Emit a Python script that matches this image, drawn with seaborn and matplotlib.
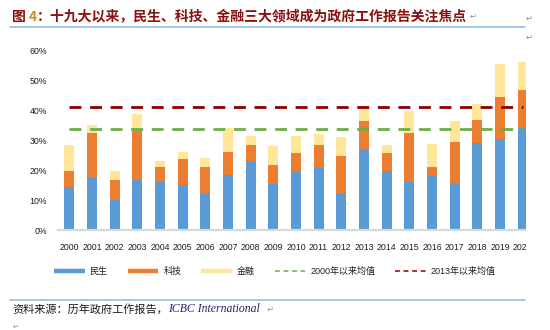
import matplotlib
matplotlib.use("Agg")
import matplotlib.pyplot as plt
import seaborn as sns
import numpy as np
import pandas as pd
from matplotlib.lines import Line2D
from matplotlib.patches import Rectangle

# Share of government work report text by theme (%)
years = [str(y) for y in range(2000, 2021)]
livelihood = [14.4, 17.8, 10.1, 16.9, 16.3, 15.2, 12.1, 18.5, 22.9, 15.6, 19.9,
              21.3, 12.5, 27.3, 19.9, 16.3, 18.5, 15.8, 29.0, 30.5, 34.3]
technology = [5.5, 14.6, 6.7, 16.4, 4.8, 8.5, 9.2, 7.8, 5.6, 6.3, 5.8,
              7.2, 12.4, 9.3, 5.8, 16.3, 2.6, 13.7, 7.9, 14.0, 12.6]
finance = [8.6, 2.8, 3.1, 5.7, 2.1, 2.3, 3.0, 7.8, 2.9, 6.4, 5.7,
           3.6, 6.2, 4.3, 2.8, 7.1, 7.8, 7.1, 5.3, 11.1, 9.3]
y_ticks = [0, 10, 20, 30, 40, 50, 60]
series_names = ["民生", "科技", "金融"]
avg_names = ["2000年以来均值", "2013年以来均值"]

BLUE, ORANGE, YELLOW = "#5B9BD5", "#ED7D31", "#FFE699"
GREEN, DARKRED = "#70AD47", "#8B0000"

sns.set_theme(style="white")
plt.rcParams["font.family"] = ["Liberation Sans", "Noto Sans CJK SC", "DejaVu Sans"]

df = pd.DataFrame({"year": years, "民生": livelihood, "科技": technology, "金融": finance})
df["lv_tech"] = df["民生"] + df["科技"]
df["total"] = df["lv_tech"] + df["金融"]
mean_all = df["total"].mean()
mean_2013 = df.loc[df["year"].astype(int) >= 2013, "total"].mean()

W, H = 550, 330
fig = plt.figure(figsize=(W / 100, H / 100), dpi=100)
ax = fig.add_axes([57.97 / W, 99.7 / H, 476 / W, 179.6 / H])

# stacked bars drawn as cumulative layers
for col, color in [("total", YELLOW), ("lv_tech", ORANGE), ("民生", BLUE)]:
    sns.barplot(data=df, x="year", y=col, color=color, saturation=1, width=0.43,
                errorbar=None, linewidth=0, ax=ax)

xpos = np.arange(len(years))
sns.lineplot(x=xpos, y=np.full(len(years), mean_all), color=GREEN, linewidth=2.0,
             linestyle=(0, (4.3, 3.1)), ax=ax, zorder=5)
sns.lineplot(x=xpos, y=np.full(len(years), mean_2013), color=DARKRED, linewidth=2.0,
             linestyle=(0, (4.3, 3.1)), ax=ax, zorder=5)

ax.set_xlim(-0.5, 20.5)
ax.set_ylim(0, 60)
ax.set_yticks(y_ticks)
ax.set_yticklabels([f"{v}%" for v in y_ticks])
ax.set_xticks(xpos)
ax.set_xticklabels(years)
ax.set_xlabel("")
ax.set_ylabel("")
ax.grid(False)
for s in ["top", "right", "left"]:
    ax.spines[s].set_visible(False)
ax.spines["bottom"].set_color("#D9D9D9")
ax.spines["bottom"].set_linewidth(1.6)
ax.tick_params(axis="both", length=0, labelsize=6.3, colors="#1F1F1F")
ax.tick_params(axis="y", pad=8)
ax.tick_params(axis="x", pad=9)

# chart frame ends at the right edge of the embedded image
fig.add_artist(Rectangle((526 / W, 40 / H), (W - 526) / W, 255 / H,
                         transform=fig.transFigure, facecolor="white",
                         edgecolor="none", zorder=10))

handles = [
    Line2D([], [], color=BLUE, lw=3.2, solid_capstyle="butt"),
    Line2D([], [], color=ORANGE, lw=3.2, solid_capstyle="butt"),
    Line2D([], [], color=YELLOW, lw=3.2, solid_capstyle="butt"),
    Line2D([], [], color=GREEN, lw=1.1, linestyle=(0, (3.2, 2.4))),
    Line2D([], [], color=DARKRED, lw=1.1, linestyle=(0, (3.2, 2.4))),
]
leg = fig.legend(handles, series_names + avg_names, loc="center",
                 bbox_to_anchor=(0.5, 1 - 271.7 / H), ncol=5, frameon=False,
                 fontsize=6.5, handlelength=3.4, handletextpad=0.55,
                 columnspacing=2.2, borderaxespad=0)
for t in leg.get_texts():
    t.set_color("#1F1F1F")

# document heading
fig.add_artist(Line2D([10 / W, 525 / W], [1 - 26.7 / H] * 2, transform=fig.transFigure,
                      color="#9DC3E6", lw=1.3))
title_kw = dict(fontsize=10, fontweight="bold", va="center",
                family=["Noto Sans CJK SC", "DejaVu Sans"])
t1 = fig.text(12 / W, 1 - 16.7 / H, "图 ", color="#8B1010", **title_kw)
t2 = ax.annotate("4", xy=(1, 0.5), xycoords=t1, ha="left", color="#D08A2E", **title_kw)
t3 = ax.annotate("：十九大以来，民生、科技、金融三大领域成为政府工作报告关注焦点",
                 xy=(1, 0.5), xycoords=t2, ha="left", color="#8B1010", **title_kw)
ax.annotate("↵", xy=(1, 0.5), xycoords=t3, xytext=(2, 0), textcoords="offset points",
            ha="left", va="center", fontsize=6, color="#8C8C8C", family="DejaVu Sans")
for yy in (18, 37):
    fig.text(529 / W, 1 - yy / H, "↵", fontsize=6, color="#8C8C8C", ha="center",
             va="center", family="DejaVu Sans", zorder=11)

# source note
fig.add_artist(Line2D([10 / W, 525 / W], [1 - 299.5 / H] * 2, transform=fig.transFigure,
                      color="#9DC3E6", lw=1.3))
s1 = fig.text(12 / W, 1 - 309.5 / H, "资料来源：历年政府工作报告，", fontsize=8,
              style="italic", va="center", color="#1A1A1A",
              family=["Noto Sans CJK SC", "DejaVu Sans"])
s2 = ax.annotate("ICBC International", xy=(1, 0.5), xycoords=s1, ha="left", va="center",
                 fontsize=8.5, style="italic", color="#23246E", family="Liberation Serif",
                 annotation_clip=False)
ax.annotate("↵", xy=(1, 0.5), xycoords=s2, xytext=(5, 0), textcoords="offset points",
            ha="left", va="center", fontsize=6, color="#8C8C8C", family="DejaVu Sans")
fig.text(13 / W, 1 - 327 / H, "↵", fontsize=5, color="#8C8C8C", va="center",
         family="DejaVu Sans")

fig.savefig("out.png", dpi=100)
